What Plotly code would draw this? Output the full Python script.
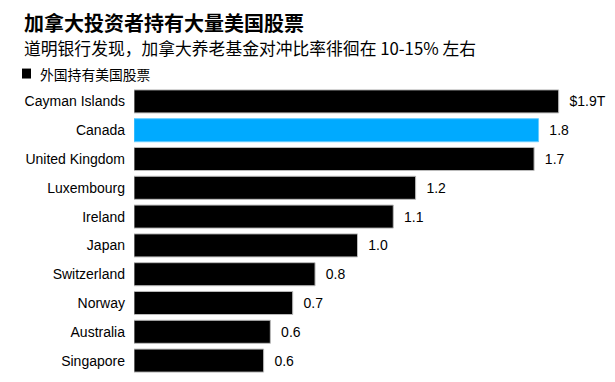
import plotly.graph_objects as go

countries = ["Cayman Islands", "Canada", "United Kingdom", "Luxembourg", "Ireland",
             "Japan", "Switzerland", "Norway", "Australia", "Singapore"]
values = [1.90, 1.81, 1.79, 1.26, 1.16, 1.00, 0.81, 0.71, 0.61, 0.58]
value_labels = ["$1.9T", "1.8", "1.7", "1.2", "1.1", "1.0", "0.8", "0.7", "0.6", "0.6"]
highlight = "Canada"

title = "加拿大投资者持有大量美国股票"
subtitle = "道明银行发现，加拿大养老基金对冲比率徘徊在 10-15% 左右"
legend_label = "外国持有美国股票"

colors = ["#00aaff" if c == highlight else "#000000" for c in countries]
line_colors = ["#66ccff" if c == highlight else "#bbbbbb" for c in countries]

LATIN = "Liberation Sans, Arial, Noto Sans CJK SC, sans-serif"
CJK = "Noto Sans CJK SC, Liberation Sans, sans-serif"

# the page body adds an 8px offset; the figure is sized to fit the window
OFF = 8
W, H = 615 - OFF, 382 - OFF
ML, MR, MT, MB = 134 - OFF, 0, 86.5 - OFF, 6.5
pw = W - ML - MR
ph = H - MT - MB


def px_x(x):
    return (x - OFF - ML) / pw


def px_y(y):
    return (H - MB - (y - OFF)) / ph


fig = go.Figure(go.Bar(
    x=values, y=countries, orientation="h",
    marker=dict(color=colors, line=dict(color=line_colors, width=1)),
    text=["\u00a0\u00a0" + t for t in value_labels], textposition="outside", cliponaxis=False,
    textfont=dict(family=LATIN, size=14, color="#000000"),
    hoverinfo="skip", showlegend=False,
))

fig.update_layout(
    width=W, height=H,
    margin=dict(l=ML, r=MR, t=MT, b=MB, autoexpand=False),
    paper_bgcolor="white", plot_bgcolor="white",
    bargap=0.2,
    xaxis=dict(range=[0, 2.152], visible=False, fixedrange=True, automargin=False),
    yaxis=dict(autorange="reversed", showgrid=False, zeroline=False, showline=False,
               ticks="", ticklabelstandoff=8, automargin=False,
               tickfont=dict(family=LATIN, size=14, color="#000000")),
    annotations=[
        dict(text="<b>" + title + "</b>", x=px_x(22), y=px_y(22), xref="paper", yref="paper",
             showarrow=False, xanchor="left", yanchor="middle",
             font=dict(family=CJK, size=20, color="#000000")),
        dict(text=subtitle, x=px_x(22), y=px_y(47), xref="paper", yref="paper",
             showarrow=False, xanchor="left", yanchor="middle",
             font=dict(family=CJK, size=16.8, color="#000000")),
        dict(text=legend_label, x=px_x(38), y=px_y(73), xref="paper", yref="paper",
             showarrow=False, xanchor="left", yanchor="middle",
             font=dict(family=CJK, size=13.8, color="#000000")),
    ],
)

fig.add_shape(type="rect", xref="paper", yref="paper",
              x0=px_x(22), x1=px_x(31), y0=px_y(78), y1=px_y(68),
              fillcolor="#000000", line=dict(width=0))

fig.write_html("out.html")
